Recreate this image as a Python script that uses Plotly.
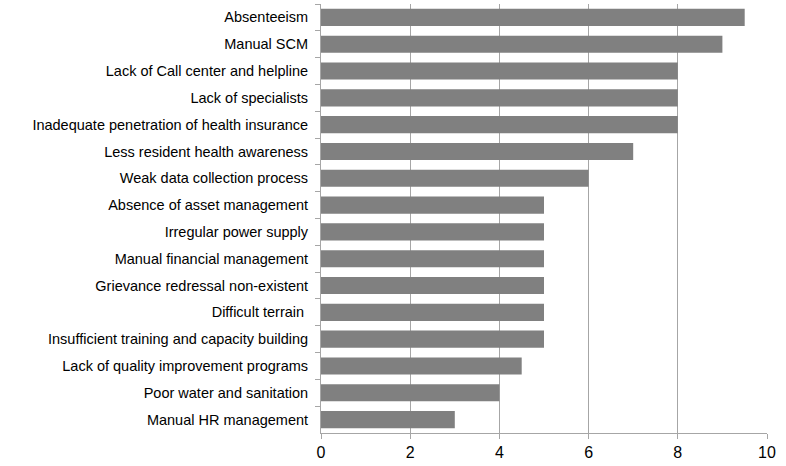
import plotly.graph_objects as go

categories = [
    "Absenteeism",
    "Manual SCM",
    "Lack of Call center and helpline",
    "Lack of specialists",
    "Inadequate penetration of health insurance",
    "Less resident health awareness",
    "Weak data collection process",
    "Absence of asset management",
    "Irregular power supply",
    "Manual financial management",
    "Grievance redressal non-existent",
    "Difficult terrain ",
    "Insufficient training and capacity building",
    "Lack of quality improvement programs",
    "Poor water and sanitation",
    "Manual HR management",
]
values = [9.5, 9, 8, 8, 8, 7, 6, 5, 5, 5, 5, 5, 5, 4.5, 4, 3]
x_ticks = [0, 2, 4, 6, 8, 10]

fig = go.Figure(go.Bar(
    x=values,
    y=categories,
    orientation="h",
    marker=dict(color="#808080", line=dict(width=0)),
))

fig.update_layout(
    width=786, height=466,
    margin=dict(l=321, r=19, t=4, b=33),
    plot_bgcolor="white",
    paper_bgcolor="white",
    bargap=0.36,
    showlegend=False,
    font=dict(family="Liberation Sans, Arial, sans-serif", color="black", size=12),
)
fig.update_xaxes(
    range=[0, 10],
    tickvals=x_ticks,
    ticktext=[str(v) for v in x_ticks],
    showgrid=True, gridcolor="#a6a6a6", gridwidth=1,
    showline=True, linecolor="#a6a6a6", linewidth=1,
    ticks="outside", ticklen=5, tickcolor="#a6a6a6",
    tickfont=dict(family="Liberation Sans, Arial, sans-serif", size=16, color="black"),
    zeroline=False,
)
fig.update_yaxes(
    categoryorder="array", categoryarray=categories,
    autorange="reversed",
    showline=True, linecolor="#a6a6a6", linewidth=1,
    ticks="outside", ticklen=5, tickcolor="#a6a6a6",
    tickson="boundaries",
    ticklabelstandoff=9,
    tickfont=dict(size=14.5),
)

fig.write_html("out.html")
